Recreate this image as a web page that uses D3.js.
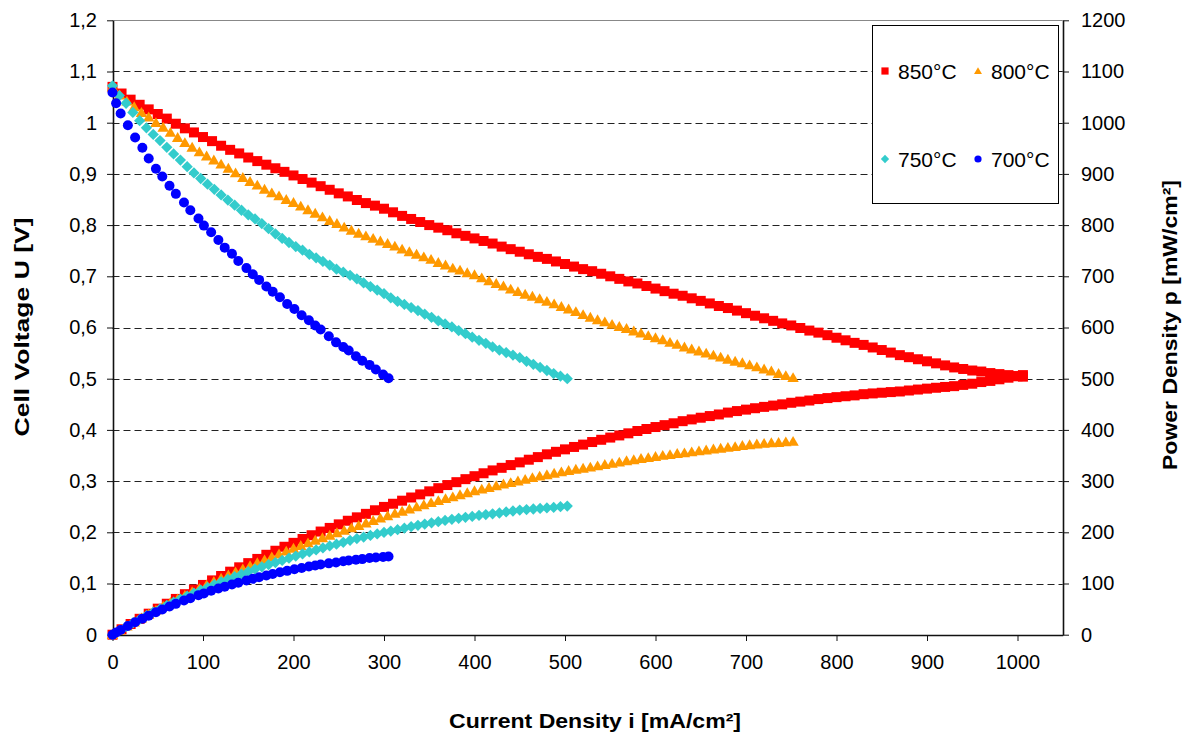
<!DOCTYPE html>
<html>
<head>
<meta charset="utf-8">
<script src="https://cdn.jsdelivr.net/npm/d3@7"></script>
<style>
  body { margin: 0; background: #fff; }
  svg { display: block; font-family: Arial, "Liberation Sans", sans-serif; }
</style>
</head>
<body>
<svg id="chart" width="1189" height="733"></svg>
<script>

// series names (cell temperature)
var seriesNames = ["850°C", "800°C", "750°C", "700°C"];

// current density i [mA/cm²] of every measured point, per series
var current850 = [0,10,20,30,40,50,60,70,80,90,100,110,120,130,140,150,160,170,180,190,
	200,210,220,230,240,250,260,270,280,290,300,310,320,330,340,350,360,370,380,390,
	400,410,420,430,440,450,460,470,480,490,500,510,520,530,540,550,560,570,580,590,
	600,610,620,630,640,650,660,670,680,690,700,710,720,730,740,750,760,770,780,790,
	800,810,820,830,840,850,860,870,880,890,900,910,920,930,940,950,960,970,980,990,
	1000,1006];
var current800 = [0,8,16,24,32,40,48,56,64,72,80,88,96,104,112,120,128,136,144,152,
	160,168,176,184,192,200,208,216,224,232,240,248,256,264,272,280,288,296,304,312,
	320,328,336,344,352,360,368,376,384,392,400,408,416,424,432,440,448,456,464,472,
	480,488,496,504,512,520,528,536,544,552,560,568,576,584,592,600,608,616,624,632,
	640,648,656,664,672,680,688,696,704,712,720,728,736,744,752];
var current750 = [0,7.5,15,22.5,30,37.5,45,52.5,60,67.5,75,82.5,90,97.5,105,112.5,120,127.5,135,142.5,
	150,157.5,165,172.5,180,187.5,195,202.5,210,217.5,225,232.5,240,247.5,255,262.5,270,277.5,285,292.5,
	300,307.5,315,322.5,330,337.5,345,352.5,360,367.5,375,382.5,390,397.5,405,412.5,420,427.5,435,442.5,
	450,457.5,465,472.5,480,487.5,495,502.5];
var current700 = [0,4,9,17,25,33,40,48,55,63,70,79,86,95,101,109,117,124,132,139,
	148,155,162,170,177,185,193,201,209,217,224,230,239,247,255,261,269,276,284,291,
	299,305];

// cell voltage U [V] at those points
var voltage850 = [1.070,1.057,1.045,1.035,1.026,1.017,1.008,0.998,0.989,0.981,
	0.972,0.964,0.955,0.947,0.940,0.932,0.925,0.918,0.911,0.904,
	0.897,0.890,0.883,0.876,0.869,0.862,0.856,0.849,0.843,0.838,
	0.832,0.825,0.818,0.812,0.806,0.800,0.795,0.790,0.784,0.779,
	0.774,0.769,0.764,0.758,0.753,0.748,0.743,0.738,0.734,0.729,
	0.724,0.719,0.714,0.710,0.705,0.700,0.695,0.690,0.686,0.681,
	0.676,0.671,0.666,0.662,0.657,0.652,0.647,0.642,0.638,0.633,
	0.628,0.623,0.618,0.613,0.608,0.604,0.599,0.594,0.590,0.585,
	0.580,0.575,0.570,0.566,0.561,0.556,0.551,0.546,0.542,0.538,
	0.534,0.530,0.526,0.522,0.519,0.516,0.514,0.511,0.509,0.507,
	0.505,0.504];
var voltage800 = [1.070,1.054,1.042,1.031,1.020,1.011,1.000,0.991,0.981,0.971,
	0.961,0.952,0.943,0.935,0.927,0.919,0.911,0.902,0.893,0.885,
	0.878,0.870,0.863,0.857,0.850,0.844,0.837,0.830,0.823,0.816,
	0.809,0.803,0.796,0.790,0.784,0.779,0.774,0.769,0.764,0.759,
	0.753,0.748,0.743,0.738,0.733,0.727,0.722,0.716,0.712,0.707,
	0.703,0.697,0.691,0.686,0.681,0.675,0.670,0.665,0.661,0.656,
	0.651,0.646,0.641,0.636,0.631,0.625,0.620,0.615,0.611,0.606,
	0.602,0.598,0.593,0.589,0.584,0.580,0.576,0.571,0.567,0.562,
	0.558,0.554,0.550,0.546,0.542,0.538,0.534,0.531,0.527,0.523,
	0.519,0.515,0.510,0.506,0.502];
var voltage750 = [1.072,1.053,1.038,1.020,1.004,0.990,0.977,0.965,0.952,0.939,
	0.927,0.914,0.902,0.891,0.880,0.870,0.859,0.849,0.839,0.829,
	0.820,0.812,0.803,0.793,0.783,0.774,0.766,0.758,0.751,0.743,
	0.736,0.729,0.722,0.714,0.708,0.702,0.695,0.687,0.680,0.673,
	0.666,0.658,0.651,0.645,0.639,0.633,0.626,0.620,0.613,0.607,
	0.601,0.594,0.588,0.581,0.575,0.569,0.562,0.556,0.551,0.546,
	0.541,0.534,0.528,0.522,0.516,0.510,0.505,0.500];
var voltage700 = [1.059,1.038,1.018,0.995,0.971,0.951,0.930,0.910,0.895,0.877,
	0.861,0.844,0.829,0.813,0.799,0.786,0.771,0.756,0.744,0.730,
	0.716,0.704,0.693,0.680,0.670,0.659,0.646,0.636,0.624,0.614,
	0.604,0.596,0.583,0.571,0.562,0.555,0.544,0.535,0.527,0.518,
	0.508,0.501];

// axis ticks
var currentTicks = [0,100,200,300,400,500,600,700,800,900,1000];
var voltageTicks = [0,0.1,0.2,0.3,0.4,0.5,0.6,0.7,0.8,0.9,1.0,1.1,1.2];
var powerTicks = [0,100,200,300,400,500,600,700,800,900,1000,1100,1200];

// styles
var seriesColors = {"850°C": "#ff0000", "800°C": "#ff9900", "750°C": "#33cccc", "700°C": "#0000ff"};
var seriesShapes = {"850°C": "square", "800°C": "triangle", "750°C": "diamond", "700°C": "circle"};

var seriesData = [
	{name: "850°C", i: current850, u: voltage850},
	{name: "800°C", i: current800, u: voltage800},
	{name: "750°C", i: current750, u: voltage750},
	{name: "700°C", i: current700, u: voltage700}
];

var svg = d3.select("#chart");

var plotLeft = 112.5, plotRight = 1062.75, plotTop = 20.3, plotBottom = 634.7;

var x = d3.scaleLinear().domain([0, 1050]).range([plotLeft, plotRight]);
var yU = d3.scaleLinear().domain([0, 1.2]).range([plotBottom, plotTop]);
var yP = d3.scaleLinear().domain([0, 1200]).range([plotBottom, plotTop]);

var commaFormat = function(v) {
	return String(+v.toFixed(1)).replace(".", ",");
};

// marker path for each shape, centred on 0,0
var markerPath = function(shape, s) {
	switch (shape) {
		case "square":
			return "M" + (-s) + "," + (-s) + "H" + s + "V" + s + "H" + (-s) + "Z";
		case "triangle":
			return "M0," + (-s * 1.05) + "L" + (s * 1.1) + "," + (s * 0.85) + "L" + (-s * 1.1) + "," + (s * 0.85) + "Z";
		case "diamond":
			return "M0," + (-s * 1.15) + "L" + (s * 1.15) + ",0L0," + (s * 1.15) + "L" + (-s * 1.15) + ",0Z";
		case "circle":
			return "M" + (-s) + ",0A" + s + "," + s + " 0 1,0 " + s + ",0A" + s + "," + s + " 0 1,0 " + (-s) + ",0Z";
	}
};

var markerSize = {"850°C": 5, "800°C": 5.2, "750°C": 4.9, "700°C": 5};

// gridlines
svg.append("g").selectAll("line")
	.data(voltageTicks.filter(function(d) { return d > 0 && d < 1.2; }))
	.enter().append("line")
	.attr("x1", plotLeft).attr("x2", plotRight)
	.attr("y1", function(d) { return Math.round(yU(d)) + 0.5; })
	.attr("y2", function(d) { return Math.round(yU(d)) + 0.5; })
	.attr("stroke", "#222")
	.attr("stroke-dasharray", "7,4");

// top border of the plot area
svg.append("line")
	.attr("x1", plotLeft).attr("x2", plotRight)
	.attr("y1", Math.round(plotTop) + 0.5).attr("y2", Math.round(plotTop) + 0.5)
	.attr("stroke", "#888");

// axes
var xAxis = d3.axisBottom(x).tickValues(currentTicks).tickFormat(d3.format("d")).tickSize(6).tickSizeOuter(0).tickPadding(14);
var leftAxis = d3.axisLeft(yU).tickValues(voltageTicks).tickFormat(commaFormat).tickSize(6).tickSizeOuter(0).tickPadding(8);
var rightAxis = d3.axisRight(yP).tickValues(powerTicks).tickFormat(d3.format("d")).tickSize(6).tickSizeOuter(0).tickPadding(8);

var gx = svg.append("g").attr("transform", "translate(0," + Math.round(plotBottom) + ")").call(xAxis);
var gl = svg.append("g").attr("transform", "translate(" + Math.round(plotLeft) + ",0)").call(leftAxis);
var gr = svg.append("g").attr("transform", "translate(" + Math.round(plotRight) + ",0)").call(rightAxis);

[gx, gl, gr].forEach(function(g) {
	g.select(".domain").attr("stroke", "#111").attr("stroke-width", 1.6);
	g.selectAll(".tick line").attr("stroke", "#111");
	g.selectAll("text").attr("fill", "#000").attr("font-size", 20)
		.attr("font-family", "Arial, 'Liberation Sans', sans-serif");
});
gl.selectAll("text").attr("dx", -2);
gr.selectAll("text").attr("dx", 4);

// data points: voltage curves and power density curves (p = U · i)
seriesData.forEach(function(s) {
	var points = s.i.map(function(cur, k) { return {i: cur, u: s.u[k], p: cur * s.u[k]}; });
	var g = svg.append("g").attr("fill", seriesColors[s.name]);
	var size = markerSize[s.name];

	g.selectAll(".volt").data(points).enter().append("path")
		.attr("class", "volt")
		.attr("d", markerPath(seriesShapes[s.name], size))
		.attr("transform", function(d) { return "translate(" + x(d.i) + "," + yU(d.u) + ")"; });

	g.selectAll(".power").data(points).enter().append("path")
		.attr("class", "power")
		.attr("d", markerPath(seriesShapes[s.name], size))
		.attr("transform", function(d) { return "translate(" + x(d.i) + "," + yP(d.p) + ")"; });
});

// axis titles
svg.append("text")
	.attr("x", 595).attr("y", 728)
	.attr("text-anchor", "middle")
	.attr("font-weight", "bold").attr("font-size", 21)
	.attr("textLength", 292).attr("lengthAdjust", "spacingAndGlyphs")
	.text("Current Density i [mA/cm²]");

svg.append("text")
	.attr("transform", "translate(29,327) rotate(-90)")
	.attr("text-anchor", "middle")
	.attr("font-weight", "bold").attr("font-size", 21)
	.attr("textLength", 219).attr("lengthAdjust", "spacingAndGlyphs")
	.text("Cell Voltage U [V]");

svg.append("text")
	.attr("transform", "translate(1177,325) rotate(-90)")
	.attr("text-anchor", "middle")
	.attr("font-weight", "bold").attr("font-size", 21)
	.attr("textLength", 290).attr("lengthAdjust", "spacingAndGlyphs")
	.text("Power Density p [mW/cm²]");

// legend
var legend = svg.append("g");
legend.append("rect")
	.attr("x", 872.5).attr("y", 25.5).attr("width", 186).attr("height", 178)
	.attr("fill", "#fff").attr("stroke", "#000");

var legendSpots = [
	{name: "850°C", col: 0, row: 0},
	{name: "800°C", col: 1, row: 0},
	{name: "750°C", col: 0, row: 1},
	{name: "700°C", col: 1, row: 1}
];

var entries = legend.selectAll(".entry").data(legendSpots).enter().append("g")
	.attr("class", "entry")
	.attr("transform", function(d) { return "translate(" + (885 + d.col * 93) + "," + (71 + d.row * 88) + ")"; });

entries.append("path")
	.attr("d", function(d) { return markerPath(seriesShapes[d.name], 3.6); })
	.attr("fill", function(d) { return seriesColors[d.name]; });

entries.append("text")
	.attr("x", 13).attr("y", 7.5)
	.attr("font-size", 21)
	.text(function(d) { return d.name; });

</script>
</body>
</html>
